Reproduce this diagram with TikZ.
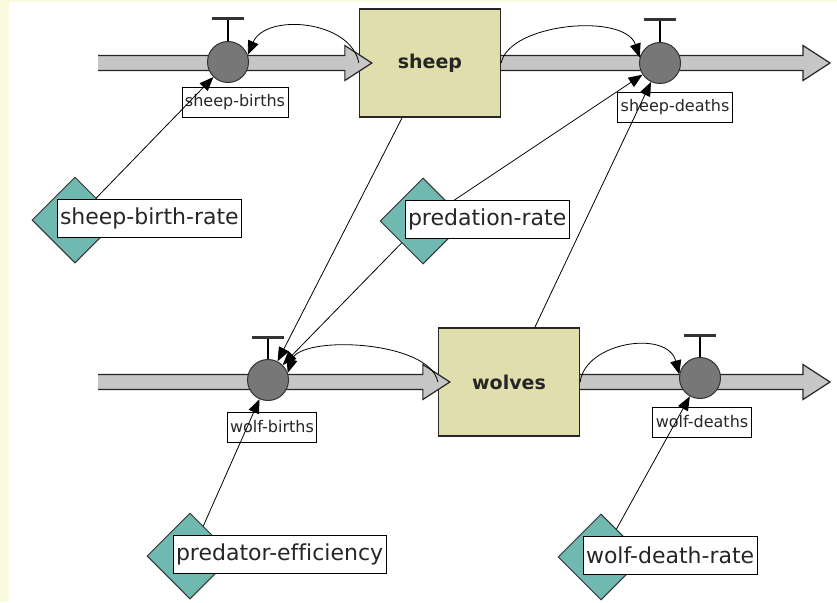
\documentclass[tikz,border=0pt]{standalone}
\usepackage{fontspec}
\setmainfont{DejaVu Sans}[Ligatures=NoCommon]
\usetikzlibrary{positioning,arrows.meta,shapes.geometric,calc}
\definecolor{cream}{HTML}{FAFADE}
\definecolor{stockfill}{HTML}{E0DEAC}
\definecolor{valvefill}{HTML}{777777}
\definecolor{pipefill}{HTML}{C6C6C6}
\definecolor{convfill}{HTML}{6FB9B1}
\tikzset{
  stock/.style={draw=black!85, line width=1.3pt, fill=stockfill, minimum width=141pt, minimum height=108pt, text=black!85, font=\fontsize{19}{22}\selectfont\bfseries},
  valve/.style={circle, draw=black!80, line width=1pt, fill=valvefill, minimum size=41pt, inner sep=0pt},
  flowname/.style={draw, fill=white, line width=0.9pt, minimum height=30pt, inner xsep=3pt, inner ysep=0pt, text=black!85, font=\fontsize{16}{18}\selectfont},
  conv/.style={diamond, draw=black!80, fill=convfill, line width=1pt, minimum width=86pt, minimum height=86pt, inner sep=0pt},
  convname/.style={draw, fill=white, line width=1pt, minimum height=38pt, inner xsep=3pt, inner ysep=0pt, text=black!85, font=\fontsize{22}{26}\selectfont},
  pipe/.style={fill=pipefill, draw=black!85, line width=1.2pt, line join=miter},
  link/.style={-{Triangle[length=14pt,width=11pt]}, line width=0.8pt},
}
% #1 tail, #2 tip of a flow pipe
\newcommand{\flowpipe}[2]{%
  \filldraw[pipe] ($(#1)+(0,-7.5)$) -- ($(#2)+(-27,-7.5)$) -- ($(#2)+(-27,-17.5)$) -- (#2)
    -- ($(#2)+(-27,17.5)$) -- ($(#2)+(-27,7.5)$) -- ($(#1)+(0,7.5)$);
}

\begin{document}
\begin{tikzpicture}[x=1pt, y=-1pt]
  \useasboundingbox (0,0) rectangle (837,602);
  \fill[cream] (0,0) rectangle (837,602);
  \fill[white] (9,2) rectangle (837,602);

  % stocks
  \node[stock] (sheep) at (430,63) {sheep};
  \node[stock] (wolves) at (509,382) {wolves};

  % pipes
  \coordinate (sbin) at (98,63);
  \coordinate (sheepin) at ([xshift=13pt]sheep.west);
  \coordinate (sdout) at (830,63);
  \coordinate (wbin) at (98,382);
  \coordinate (wolvesin) at ([xshift=12pt]wolves.west);
  \coordinate (wdout) at (830,382);
  \flowpipe{sbin}{sheepin}
  \flowpipe{sheep.east}{sdout}
  \flowpipe{wbin}{wolvesin}
  \flowpipe{wolves.east}{wdout}

  % valves
  \node[valve] (sbv) at (228,62) {};
  \node[valve] (sdv) at (660,63) {};
  \node[valve] (wbv) at (268,380) {};
  \node[valve] (wdv) at (700,378) {};
  \foreach \v in {sbv,sdv,wbv,wdv} {
    \draw[line width=1.2pt] (\v.north) -- ++(0,-21);
    \draw[line width=3pt, black!80] ([shift={(-16,-22)}]\v.north) -- ++(32,0);
  }
  \node[flowname] (sbl) at (235,102) {sheep-births};
  \node[flowname] (sdl) at (675,107) {sheep-deaths};
  \node[flowname] (wbl) at (272,427) {wolf-births};
  \node[flowname] (wdl) at (702,422) {wolf-deaths};

  % converters
  \node[conv] (sbr) at (75,220) {};
  \node[conv] (pr) at (423,221) {};
  \node[conv] (pe) at (190,556) {};
  \node[conv] (wdr) at (601,557) {};

  \draw[link] (sheep.west) .. controls +(-8,-43) and +(18,-42) .. (sbv.20);
  \draw[link] (sheep.east) .. controls +(8,-40) and +(-15,-45) .. (sdv.165);
  \draw[link] (wolves.west) .. controls +(-8,-42) and +(12,-38) .. (wbv.20);
  \draw[link] (wolves.east) .. controls +(5,-40) and +(-12,-45) .. (wdv.170);
  \draw[link] (sbr) -- (sbv);
  \draw[link] (pr) -- (sdv);
  \draw[link] (wolves) -- (sdv);
  \draw[link] (sheep) -- (wbv);
  \draw[link] (pr) -- (wbv);
  \draw[link] (pe) -- (wbv);
  \draw[link] (wdr) -- (wdv);

  \node[convname, right=-62pt of sbr, yshift=1.5pt] (sbrl) {sheep-birth-rate};
  \node[convname, right=-62pt of pr, yshift=1.5pt] (prl) {predation-rate};
  \node[convname, right=-61pt of pe, yshift=1.5pt] (pel) {predator-efficiency};
  \node[convname, right=-62pt of wdr, yshift=1.5pt] (wdrl) {wolf-death-rate};
\end{tikzpicture}
\end{document}
